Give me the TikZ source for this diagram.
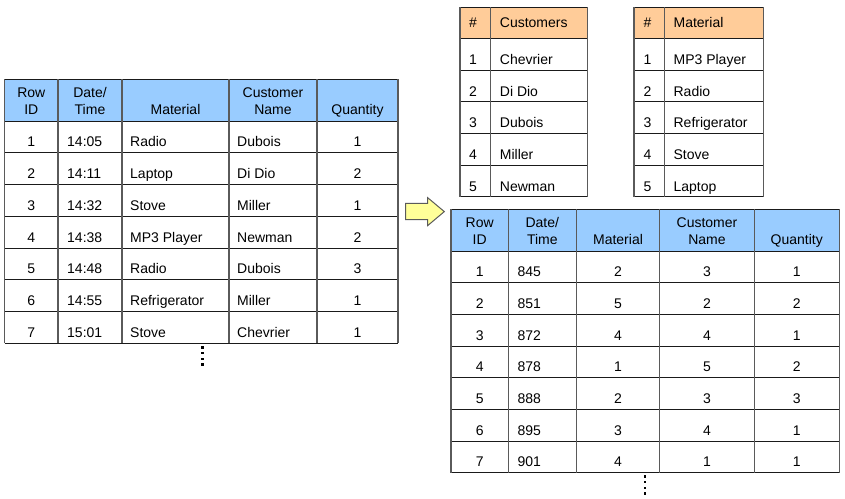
\documentclass[tikz,border=0pt]{standalone}
\usepackage{fontspec}
\setmainfont{Liberation Sans}
\definecolor{hdrblue}{HTML}{99CCFF}
\definecolor{hdrorange}{HTML}{FFCC99}
\definecolor{arrowyellow}{HTML}{FFFF99}
\definecolor{vlinecol}{HTML}{5A5A5A}
\definecolor{hlinecol}{HTML}{1A1A1A}
\tikzset{
  cell/.style={font=\fontsize{14}{17}\selectfont, inner sep=0pt, text=black},
  hcell/.style={cell, align=center},
  hrule/.style={draw=hlinecol, line width=1pt},
  vrule/.style={draw=vlinecol, line width=1.3pt},
  dotmark/.style={fill=black},
  blockarrow/.style={fill=arrowyellow, draw=vlinecol, line width=1pt, line join=miter},
}
\begin{document}
\begin{tikzpicture}[x=1pt,y=-1pt]
\useasboundingbox (0,0) rectangle (845,498);

% ---------------- Left table ----------------
\fill[hdrblue] (4.7,79.3) rectangle (398,121);
\foreach \y in {79.3,121,152.75,184.5,216.25,248,279.75,311.5,343.25}
  \draw[hrule] (4.7,\y) -- (398,\y);
\foreach \x in {4.7,58,122,229,317,398}
  \draw[vrule] (\x,79.3) -- (\x,343.25);
\node[cell,anchor=base] (Lh1a) at (31.35,97.3) {Row};
\node[cell,anchor=base] (Lh1b) at (31.35,114.3) {ID};
\node[cell,anchor=base] (Lh2a) at (90,97.3) {Date/};
\node[cell,anchor=base] (Lh2b) at (90,114.3) {Time};
\node[cell,anchor=base] (Lh3) at (175.5,114.3) {Material};
\node[cell,anchor=base] (Lh4a) at (273,97.3) {Customer};
\node[cell,anchor=base] (Lh4b) at (273,114.3) {Name};
\node[cell,anchor=base] (Lh5) at (357.5,114.3) {Quantity};
\foreach \i/\t/\m/\c/\q in {1/14:05/Radio/Dubois/1,2/14:11/Laptop/Di Dio/2,3/14:32/Stove/Miller/1,4/14:38/MP3 Player/Newman/2,5/14:48/Radio/Dubois/3,6/14:55/Refrigerator/Miller/1,7/15:01/Stove/Chevrier/1}{
  \pgfmathsetmacro{\yb}{121+\i*31.75-6}
  \node[cell,anchor=base] (L\i a) at (31.35,\yb) {\i};
  \node[cell,anchor=base west] (L\i b) at (67,\yb) {\t};
  \node[cell,anchor=base west] (L\i c) at (130,\yb) {\m};
  \node[cell,anchor=base west] (L\i d) at (237,\yb) {\c};
  \node[cell,anchor=base] (L\i e) at (357.5,\yb) {\q};
}
\foreach \y in {347.3,353.1,358.9,364.7}
  \fill[dotmark] (201.3,\y-1.3) rectangle (204.0,\y+1.3);

% ---------------- Customers table ----------------
\fill[hdrorange] (460,7.3) rectangle (587.3,38.3);
\foreach \y in {7.3,38.3,70,101.7,133.4,165.1,196.8}
  \draw[hrule] (460,\y) -- (587.3,\y);
\foreach \x in {460,490.7,587.3}
  \draw[vrule] (\x,7.3) -- (\x,196.8);
\node[cell,anchor=base west] (Ch1) at (469,27.3) {\#};
\node[cell,anchor=base west] (Ch2) at (499.7,27.3) {Customers};
\foreach \i/\n in {1/Chevrier,2/Di Dio,3/Dubois,4/Miller,5/Newman}{
  \pgfmathsetmacro{\yb}{38.3+\i*31.7-5.7}
  \node[cell,anchor=base west] (C\i a) at (469,\yb) {\i};
  \node[cell,anchor=base west] (C\i b) at (499.7,\yb) {\n};
}

% ---------------- Material table ----------------
\fill[hdrorange] (634,7.3) rectangle (763.7,38.3);
\foreach \y in {7.3,38.3,70,101.7,133.4,165.1,196.8}
  \draw[hrule] (634,\y) -- (763.7,\y);
\foreach \x in {634,664.3,763.7}
  \draw[vrule] (\x,7.3) -- (\x,196.8);
\node[cell,anchor=base west] (Mh1) at (643.3,27.3) {\#};
\node[cell,anchor=base west] (Mh2) at (673.4,27.3) {Material};
\foreach \i/\n in {1/MP3 Player,2/Radio,3/Refrigerator,4/Stove,5/Laptop}{
  \pgfmathsetmacro{\yb}{38.3+\i*31.7-5.7}
  \node[cell,anchor=base west] (M\i a) at (643.3,\yb) {\i};
  \node[cell,anchor=base west] (M\i b) at (673.4,\yb) {\n};
}

% ---------------- Arrow ----------------
\draw[blockarrow] (405.7,203.3) -- (427.7,203.3) -- (427.7,197.7) -- (444.3,211.6)
  -- (427.7,225.6) -- (427.7,219.5) -- (405.7,219.5) -- cycle;

% ---------------- Bottom table ----------------
\fill[hdrblue] (451,209) rectangle (839.3,251);
\foreach \y in {209,251,282.67,314.33,346,377.67,409.33,441,472.67}
  \draw[hrule] (451,\y) -- (839.3,\y);
\foreach \x in {451,508.3,576.3,659.7,754.3,839.3}
  \draw[vrule] (\x,209) -- (\x,472.67);
\node[cell,anchor=base] (Bh1a) at (479.65,227.3) {Row};
\node[cell,anchor=base] (Bh1b) at (479.65,244.3) {ID};
\node[cell,anchor=base] (Bh2a) at (542.3,227.3) {Date/};
\node[cell,anchor=base] (Bh2b) at (542.3,244.3) {Time};
\node[cell,anchor=base] (Bh3) at (618,244.3) {Material};
\node[cell,anchor=base] (Bh4a) at (707,227.3) {Customer};
\node[cell,anchor=base] (Bh4b) at (707,244.3) {Name};
\node[cell,anchor=base] (Bh5) at (796.8,244.3) {Quantity};
\foreach \i/\t/\m/\c/\q in {1/845/2/3/1,2/851/5/2/2,3/872/4/4/1,4/878/1/5/2,5/888/2/3/3,6/895/3/4/1,7/901/4/1/1}{
  \pgfmathsetmacro{\yb}{251+\i*31.67-6}
  \node[cell,anchor=base] (B\i a) at (479.65,\yb) {\i};
  \node[cell,anchor=base west] (B\i b) at (517.3,\yb) {\t};
  \node[cell,anchor=base] (B\i c) at (618,\yb) {\m};
  \node[cell,anchor=base] (B\i d) at (707,\yb) {\c};
  \node[cell,anchor=base] (B\i e) at (796.8,\yb) {\q};
}
\foreach \y in {476.4,482.1,487.8,493.5}
  \fill[dotmark] (643.7,\y-1.3) rectangle (646.4,\y+1.3);
\end{tikzpicture}
\end{document}
